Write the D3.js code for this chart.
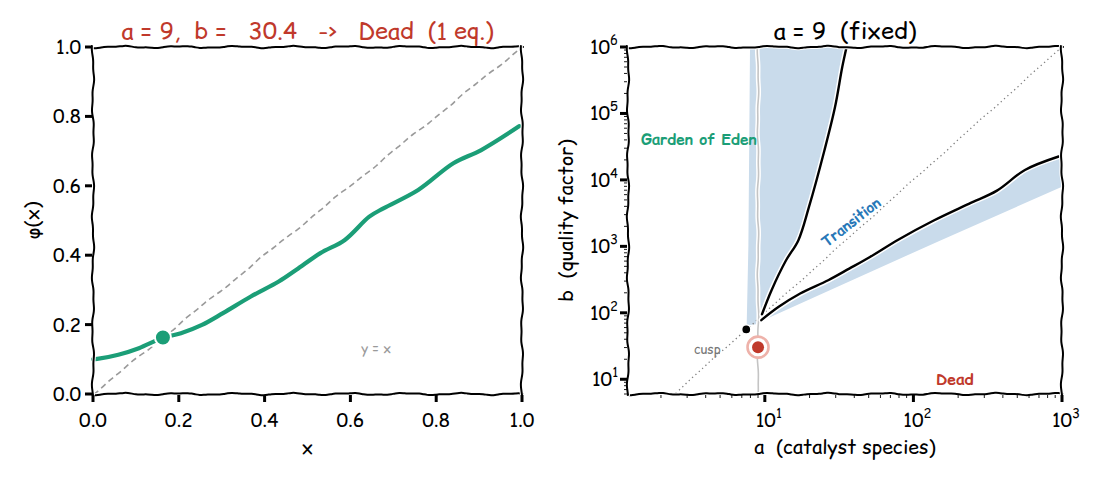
<!DOCTYPE html>
<html>
<head>
<meta charset="utf-8">
<script src="https://cdn.jsdelivr.net/npm/d3@7"></script>
<style>
  body { margin: 0; background: #fff; }
  svg text { font-family: "Comic Relief", "Comic Sans MS", "Comic Neue", "DejaVu Sans", sans-serif; white-space: pre; }
</style>
</head>
<body>
<div id="chart"></div>
<script>
// ---- left panel data: the map phi(x) ----
var phiX = [0.0, 0.01, 0.059, 0.107, 0.161, 0.205, 0.254, 0.303, 0.368, 0.433, 0.474, 0.530, 0.587, 0.644, 0.677, 0.758, 0.840, 0.905, 0.994];
var phiY = [0.100, 0.101, 0.113, 0.132, 0.161, 0.175, 0.199, 0.233, 0.281, 0.324, 0.358, 0.406, 0.444, 0.511, 0.535, 0.588, 0.665, 0.703, 0.772];
var diagX = [0, 1];
var diagY = [0, 1];
var fixedPoint = [0.163, 0.163];
var linTicks = [0, 0.2, 0.4, 0.6, 0.8, 1.0];

// ---- right panel data: regime map in (a, b) ----
var upperA = [9.57, 11.1, 13.9, 16.8, 19.8, 25.2, 29.7, 33.2, 35.5];
var upperB = [95, 219, 617, 1230, 3890, 28000, 126000, 500000, 1000000];
var lowerA = [9.47, 12.4, 17.3, 26.7, 37, 51, 79, 137, 236, 365, 563, 950];
var lowerB = [77.6, 123, 195, 309, 462, 692, 1260, 2450, 4370, 6900, 14100, 22500];
var leftEdgeA = [7.55, 7.75, 7.95];
var leftEdgeB = [65, 1000, 1000000];
var lowerEdgeA = [9.6, 152, 1000];
var lowerEdgeB = [76, 1230, 7900];
var cuspLineA = [2.5, 1000];
var cuspLineB = [6.25, 1000000];
var cusp = [7.5, 56.25];
var current = [9, 30.4];
var aFixed = 9;
var logXTicks = [10, 100, 1000];
var logYTicks = [10, 100, 1000, 10000, 100000, 1000000];

var W = 1100, H = 480;
var green = "#1b9e77", red = "#c0392b", blueFill = "#c9dbeb", blueText = "#2878b8";
var tickFont = 19, labelFont = 19.5, titleFont = 23.5;

var svg = d3.select("#chart").append("svg")
  .attr("width", W).attr("height", H);

// hand-drawn look: resample a pixel polyline and push it sideways a little
function wobble(pts, amp, period) {
  var out = [], s = 0;
  for (var i = 0; i < pts.length - 1; i++) {
    var x0 = pts[i][0], y0 = pts[i][1], x1 = pts[i + 1][0], y1 = pts[i + 1][1];
    var len = Math.hypot(x1 - x0, y1 - y0);
    if (len === 0) continue;
    var n = Math.max(1, Math.ceil(len / 4));
    var nx = -(y1 - y0) / len, ny = (x1 - x0) / len;
    for (var k = 0; k < n; k++) {
      var t = k / n, ss = s + t * len;
      var off = amp * (0.65 * Math.sin(ss / period + 1.3) + 0.35 * Math.sin(ss / (period * 0.37) + 0.7));
      out.push([x0 + t * (x1 - x0) + nx * off, y0 + t * (y1 - y0) + ny * off]);
    }
    s += len;
  }
  out.push(pts[pts.length - 1]);
  return d3.line().curve(d3.curveBasis)(out);
}

function halo(g, d, color, width, extra) {
  g.append("path").attr("d", d).attr("fill", "none")
    .attr("stroke", "#fff").attr("stroke-width", width + (extra || 3)).attr("stroke-linecap", "round");
  return g.append("path").attr("d", d).attr("fill", "none")
    .attr("stroke", color).attr("stroke-width", width).attr("stroke-linecap", "round");
}

function frame(g, x0, x1, y0, y1) {
  var pad = 1;
  halo(g, wobble([[x0 - pad, y0], [x1 + pad, y0]], 1.3, 9), "#000", 2, 2);
  halo(g, wobble([[x0 - pad, y1], [x1 + pad, y1]], 1.3, 9), "#000", 2, 2);
  halo(g, wobble([[x0, y0 - pad], [x0, y1 + pad]], 1.3, 9), "#000", 2, 2);
  halo(g, wobble([[x1, y0 - pad], [x1, y1 + pad]], 1.3, 9), "#000", 2, 2);
}

// ================= LEFT PANEL =================
var L = { x0: 93, x1: 522, y0: 47, y1: 394 };
var lx = d3.scaleLinear().domain([0, 1]).range([L.x0, L.x1]);
var ly = d3.scaleLinear().domain([0, 1]).range([L.y1, L.y0]);
var gl = svg.append("g");

// y = x reference
var diagPts = diagX.map(function(v, i) { return [lx(v), ly(diagY[i])]; });
gl.append("path").attr("d", wobble(diagPts, 0.9, 14)).attr("fill", "none")
  .attr("stroke", "#9a9a9a").attr("stroke-width", 1.6).attr("stroke-dasharray", "6,4");

// phi(x)
var phiPts = phiX.map(function(v, i) { return [lx(v), ly(phiY[i])]; });
halo(gl, d3.line().curve(d3.curveCatmullRom)(phiPts), green, 4.2, 3);

gl.append("circle").attr("cx", lx(fixedPoint[0])).attr("cy", ly(fixedPoint[1])).attr("r", 8)
  .attr("fill", green).attr("stroke", "#fff").attr("stroke-width", 2);

gl.append("text").attr("x", lx(0.66)).attr("y", ly(0.13)).attr("text-anchor", "middle")
  .attr("dominant-baseline", "central").attr("font-size", 13.5).attr("fill", "#9a9a9a").text("y = x");

frame(gl, L.x0, L.x1, L.y0, L.y1);

linTicks.forEach(function(t) {
  gl.append("line").attr("x1", L.x0 - 8).attr("x2", L.x0 - 1).attr("y1", ly(t)).attr("y2", ly(t))
    .attr("stroke", "#000").attr("stroke-width", 3);
  gl.append("text").attr("x", L.x0 - 12).attr("y", ly(t)).attr("text-anchor", "end")
    .attr("dominant-baseline", "central").attr("font-size", tickFont).text(t.toFixed(1));
  gl.append("line").attr("x1", lx(t)).attr("x2", lx(t)).attr("y1", L.y1 + 1).attr("y2", L.y1 + 8)
    .attr("stroke", "#000").attr("stroke-width", 3);
  gl.append("text").attr("x", lx(t)).attr("y", 420).attr("text-anchor", "middle")
    .attr("dominant-baseline", "central").attr("font-size", tickFont).text(t.toFixed(1));
});

gl.append("text").attr("x", (L.x0 + L.x1) / 2).attr("y", 447).attr("text-anchor", "middle")
  .attr("dominant-baseline", "central").attr("font-size", labelFont).text("x");
gl.append("text").attr("transform", "translate(32," + ((L.y0 + L.y1) / 2) + ") rotate(-90)")
  .attr("text-anchor", "middle").attr("dominant-baseline", "central").attr("font-size", labelFont)
  .text("\u03c6(x)");
gl.append("text").attr("x", (L.x0 + L.x1) / 2).attr("y", 30).attr("text-anchor", "middle")
  .attr("dominant-baseline", "central").attr("font-size", titleFont).attr("fill", red)
  .text("a = 9,  b =   30.4   ->   Dead  (1 eq.)");

// ================= RIGHT PANEL =================
var R = { x0: 628, x1: 1062, y0: 47, y1: 394 };
var rx = d3.scaleLog().domain([1.2, 1000]).range([R.x0, R.x1]);
var ry = d3.scaleLog().domain([6, 1000000]).range([R.y1, R.y0]);
var gr = svg.append("g");

svg.append("defs").append("clipPath").attr("id", "clipR").append("rect")
  .attr("x", R.x0).attr("y", R.y0).attr("width", R.x1 - R.x0).attr("height", R.y1 - R.y0);
var plot = gr.append("g").attr("clip-path", "url(#clipR)");

function pts(A, B) { return A.map(function(a, i) { return [rx(a), ry(B[i])]; }); }

// bistable lobes
var upperLobe = pts(leftEdgeA, leftEdgeB)
  .concat(pts(upperA, upperB).reverse())
  .concat([[rx(aFixed), ry(68)]]);
plot.append("path").attr("d", d3.line()(upperLobe) + "Z").attr("fill", blueFill);

var lowerLobe = pts(lowerA, lowerB)
  .concat([[rx(1000), ry(23500)]])
  .concat(pts(lowerEdgeA, lowerEdgeB).reverse());
plot.append("path").attr("d", d3.line()(lowerLobe) + "Z").attr("fill", blueFill);

// b = a^2 guide through the cusp
plot.append("path").attr("d", wobble(pts(cuspLineA, cuspLineB), 0.5, 14)).attr("fill", "none")
  .attr("stroke", "#808080").attr("stroke-width", 1.3).attr("stroke-dasharray", "1.3,3.2");

// fixed-a slice
halo(plot, wobble([[rx(aFixed), R.y0], [rx(aFixed), R.y1]], 0.8, 12), "#c4c4c4", 1.6, 3);

// fold curves
halo(plot, d3.line().curve(d3.curveCatmullRom)(pts(upperA, upperB)), "#000", 2.4, 3);
halo(plot, d3.line().curve(d3.curveCatmullRom)(pts(lowerA, lowerB)), "#000", 2.4, 3);

plot.append("circle").attr("cx", rx(cusp[0])).attr("cy", ry(cusp[1])).attr("r", 4.6)
  .attr("fill", "#000").attr("stroke", "#fff").attr("stroke-width", 1.5);
plot.append("circle").attr("cx", rx(current[0])).attr("cy", ry(current[1])).attr("r", 10.5)
  .attr("fill", "#fff").attr("stroke", "#eeb2aa").attr("stroke-width", 2.6);
plot.append("circle").attr("cx", rx(current[0])).attr("cy", ry(current[1])).attr("r", 6)
  .attr("fill", red);

plot.append("text").attr("x", rx(4.1)).attr("y", ry(29)).attr("text-anchor", "middle")
  .attr("dominant-baseline", "central").attr("font-size", 13).attr("fill", "#777").text("cusp");
plot.append("text").attr("x", rx(3.6)).attr("y", ry(40000)).attr("text-anchor", "middle")
  .attr("dominant-baseline", "central").attr("font-size", 15.2).attr("font-weight", "bold")
  .attr("fill", green).text("Garden of Eden");
plot.append("text").attr("transform", "translate(" + rx(38) + "," + ry(2300) + ") rotate(-38)")
  .attr("text-anchor", "middle").attr("dominant-baseline", "central").attr("font-size", 14.5)
  .attr("font-weight", "bold").attr("fill", blueText).text("Transition");
plot.append("text").attr("x", rx(190)).attr("y", ry(10)).attr("text-anchor", "middle")
  .attr("dominant-baseline", "central").attr("font-size", 15.5).attr("font-weight", "bold")
  .attr("fill", red).text("Dead");

frame(gr, R.x0, R.x1, R.y0, R.y1);

// minor ticks
rx.ticks().filter(function(t) { return logXTicks.indexOf(t) < 0 && t >= 1.2; }).forEach(function(t) {
  gr.append("line").attr("x1", rx(t)).attr("x2", rx(t)).attr("y1", R.y1 + 1).attr("y2", R.y1 + 4)
    .attr("stroke", "#000").attr("stroke-width", 0.9);
});
ry.ticks().filter(function(t) { return logYTicks.indexOf(t) < 0; }).forEach(function(t) {
  gr.append("line").attr("x1", R.x0 - 4).attr("x2", R.x0 - 1).attr("y1", ry(t)).attr("y2", ry(t))
    .attr("stroke", "#000").attr("stroke-width", 0.9);
});

function powLabel(sel, t) {
  var e = Math.round(Math.log10(t));
  sel.append("tspan").text("10");
  sel.append("tspan").attr("dy", -9).attr("font-size", 13).text(e);
}

logXTicks.forEach(function(t) {
  gr.append("line").attr("x1", rx(t)).attr("x2", rx(t)).attr("y1", R.y1 + 1).attr("y2", R.y1 + 8)
    .attr("stroke", "#000").attr("stroke-width", 3);
  var tx = gr.append("text").attr("x", rx(t) + 4).attr("y", 427).attr("text-anchor", "middle")
    .attr("font-size", tickFont);
  powLabel(tx, t);
});
logYTicks.forEach(function(t) {
  gr.append("line").attr("x1", R.x0 - 8).attr("x2", R.x0 - 1).attr("y1", ry(t)).attr("y2", ry(t))
    .attr("stroke", "#000").attr("stroke-width", 3);
  var ty = gr.append("text").attr("x", R.x0 - 10).attr("y", ry(t) + 7).attr("text-anchor", "end")
    .attr("font-size", tickFont);
  powLabel(ty, t);
});

gr.append("text").attr("x", (R.x0 + R.x1) / 2).attr("y", 447).attr("text-anchor", "middle")
  .attr("dominant-baseline", "central").attr("font-size", labelFont).text("a  (catalyst species)");
gr.append("text").attr("transform", "translate(566," + ((R.y0 + R.y1) / 2) + ") rotate(-90)")
  .attr("text-anchor", "middle").attr("dominant-baseline", "central").attr("font-size", labelFont)
  .text("b  (quality factor)");
gr.append("text").attr("x", (R.x0 + R.x1) / 2).attr("y", 30).attr("text-anchor", "middle")
  .attr("dominant-baseline", "central").attr("font-size", titleFont).text("a = 9  (fixed)");
</script>
</body>
</html>
